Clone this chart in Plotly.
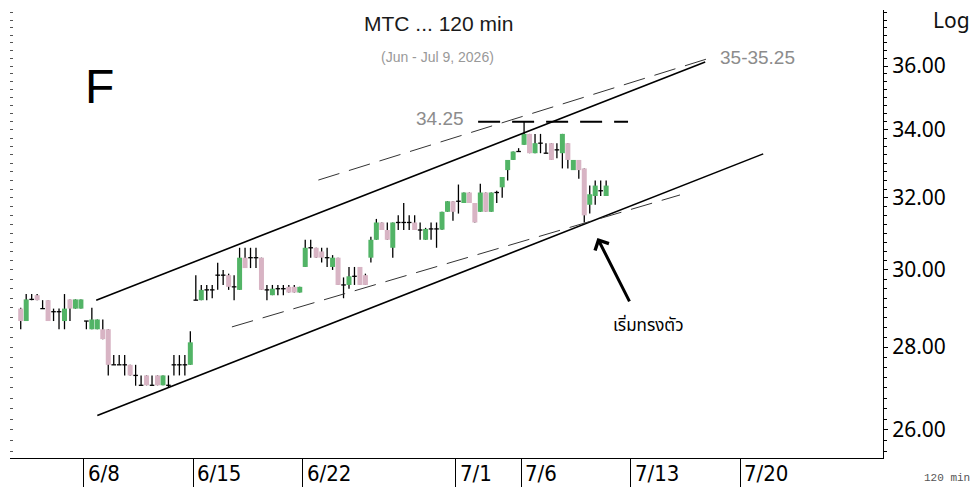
import numpy as np
import plotly.graph_objects as go

# ---------------- data ----------------
# 120-min bars, 4 bars per trading day, Jun 3 .. Jul 9
opens = [28.98, 28.66, 29.22, 29.33, 28.98, 29.20, 28.90, 28.90, 28.66, 29.22, 28.98, 28.98,
         28.66, 28.45, 28.45, 28.45, 28.45, 27.56, 27.56, 27.56, 27.56, 27.30, 27.06, 27.30,
         27.06, 27.30, 27.06, 27.06, 27.56, 27.56, 27.56, 27.56,
         29.20, 29.20, 29.47, 29.47, 29.86, 29.86, 29.86, 29.55, 29.47, 30.33, 30.33, 30.33,
         30.33, 29.47, 29.33, 29.50, 29.50, 29.55, 29.55, 29.40,
         30.08, 30.60, 30.60, 30.50, 30.33, 30.08, 30.33, 29.60, 29.60, 29.83, 30.08, 29.86,
         30.33, 30.82, 31.30, 31.09, 30.60, 31.30, 31.30, 31.30, 31.30, 31.09, 30.82, 31.12,
         31.12, 31.10, 31.60, 31.90, 31.90, 31.85, 32.15, 31.85, 31.60, 32.15, 31.60, 32.15,
         32.30, 32.80, 33.10, 33.35, 33.55, 33.88, 33.30, 33.60, 33.30, 33.60, 33.40, 33.30,
         33.60, 32.80, 33.10, 32.85, 31.80, 32.05, 32.20, 32.05]
highs = [29.00, 29.36, 29.36, 29.36, 29.20, 29.20, 28.98, 28.98, 29.36, 29.22, 29.22, 29.22,
         28.66, 29.00, 28.70, 28.70, 28.45, 27.80, 27.80, 27.80, 27.56, 27.56, 27.30, 27.30,
         27.30, 27.30, 27.30, 27.30, 27.80, 27.80, 27.80, 28.40,
         29.86, 29.60, 29.60, 29.60, 30.19, 30.00, 29.90, 29.86, 30.60, 30.60, 30.60, 30.60,
         30.33, 29.60, 29.60, 29.60, 29.60, 29.60, 29.60, 29.55,
         30.82, 30.82, 30.60, 30.60, 30.60, 30.40, 30.33, 29.80, 30.08, 30.08, 30.08, 29.90,
         30.90, 31.40, 31.30, 31.30, 31.30, 31.50, 31.85, 31.50, 31.50, 31.30, 31.15, 31.30,
         31.30, 31.60, 31.90, 31.90, 32.38, 32.15, 32.15, 31.85, 32.40, 32.15, 32.15, 32.20,
         32.60, 33.10, 33.35, 33.45, 34.25, 33.88, 33.88, 33.88, 33.60, 33.60, 33.60, 33.88,
         33.60, 33.10, 33.10, 32.85, 32.35, 32.50, 32.50, 32.50]
lows = [28.45, 28.66, 29.20, 29.20, 28.98, 28.66, 28.66, 28.45, 28.45, 28.66, 28.98, 28.98,
        28.45, 28.45, 28.45, 28.20, 27.30, 27.56, 27.56, 27.30, 27.30, 27.05, 27.06, 27.06,
        27.06, 27.06, 27.06, 27.00, 27.30, 27.30, 27.30, 27.56,
        29.20, 29.20, 29.20, 29.25, 29.47, 29.60, 29.47, 29.20, 29.47, 30.05, 30.05, 30.05,
        29.47, 29.20, 29.33, 29.33, 29.33, 29.40, 29.40, 29.40,
        30.08, 30.33, 30.33, 30.20, 30.08, 30.00, 29.60, 29.25, 29.50, 29.60, 29.60, 29.60,
        30.20, 30.82, 31.09, 30.82, 30.33, 31.09, 31.09, 31.09, 31.09, 30.82, 30.82, 30.82,
        30.60, 31.10, 31.60, 31.35, 31.55, 31.85, 31.85, 31.30, 31.60, 31.60, 31.60, 31.85,
        32.00, 32.50, 33.10, 33.35, 33.55, 33.30, 33.30, 33.30, 33.30, 33.10, 33.15, 32.85,
        32.85, 32.80, 32.55, 31.30, 31.55, 31.80, 32.05, 32.05]
closes = [28.66, 29.22, 29.22, 29.20, 28.98, 28.66, 28.90, 28.90, 28.98, 28.98, 29.22, 29.22,
          28.66, 28.70, 28.70, 28.20, 27.56, 27.56, 27.56, 27.56, 27.30, 27.30, 27.06, 27.06,
          27.06, 27.06, 27.30, 27.06, 27.56, 27.56, 27.56, 28.12,
          29.20, 29.47, 29.47, 29.47, 29.86, 29.86, 29.55, 29.55, 30.33, 30.05, 30.33, 30.33,
          29.47, 29.47, 29.50, 29.50, 29.50, 29.40, 29.40, 29.55,
          30.60, 30.60, 30.33, 30.33, 30.33, 30.33, 29.60, 29.60, 29.83, 29.83, 29.60, 29.60,
          30.82, 31.30, 31.09, 30.82, 31.30, 31.30, 31.30, 31.30, 31.09, 31.09, 31.12, 31.12,
          31.12, 31.60, 31.90, 31.60, 31.90, 32.15, 31.85, 31.30, 32.15, 31.60, 32.15, 32.15,
          32.60, 33.10, 33.35, 33.35, 33.88, 33.30, 33.60, 33.60, 33.30, 33.10, 33.40, 33.88,
          33.10, 33.10, 32.80, 31.50, 32.10, 32.35, 32.20, 32.35]

# day-boundary positions (in bar units) and their labels
tick_pos = [11.5, 31.5, 51.5, 79.5, 91.5, 111.5, 131.5]
tick_labels = ["6/8", "6/15", "6/22", "7/1", "7/6", "7/13", "7/20"]
y_ticks = [26, 28, 30, 32, 34, 36]
y_tick_labels = ["26.00", "28.00", "30.00", "32.00", "34.00", "36.00"]

# hand-drawn lines (bar index, price)
upper_channel = ([13.8, 125.1], [29.20, 36.13])
lower_channel = ([14.0, 135.7], [26.34, 33.28])
upper_dashed = ([54.4, 126.0], [32.51, 36.26])
lower_dashed = ([38.6, 120.5], [28.51, 32.08])
resistance = ([83.6, 111.0], [34.25, 34.25])
arrow_head = (105.4, 30.87)
arrow_tail = (111.4, 29.13)

GREEN = "#52b466"
PINK = "#d8b4c4"

n = len(opens)
idx = list(range(n))

def seg(xs, y0s, y1s):
    X, Y = [], []
    for x, a, b in zip(xs, y0s, y1s):
        X += [x, x, None]
        Y += [a, b, None]
    return X, Y

up = [i for i in idx if closes[i] > opens[i]]
dn = [i for i in idx if closes[i] < opens[i]]
dj = [i for i in idx if closes[i] == opens[i]]

fig = go.Figure()

wx, wy = seg(idx, lows, highs)
fig.add_trace(go.Scatter(x=wx, y=wy, mode="lines", line=dict(color="black", width=1.3),
                         hoverinfo="skip", showlegend=False))
gx, gy = seg(up, [opens[i] for i in up], [closes[i] for i in up])
fig.add_trace(go.Scatter(x=gx, y=gy, mode="lines", line=dict(color=GREEN, width=5.0),
                         hoverinfo="skip", showlegend=False))
px_, py_ = seg(dn, [opens[i] for i in dn], [closes[i] for i in dn])
fig.add_trace(go.Scatter(x=px_, y=py_, mode="lines", line=dict(color=PINK, width=5.0),
                         hoverinfo="skip", showlegend=False))
dx, dy = [], []
for i in dj:
    dx += [i - 0.42, i + 0.42, None]
    dy += [opens[i], opens[i], None]
fig.add_trace(go.Scatter(x=dx, y=dy, mode="lines", line=dict(color="black", width=1.3),
                         hoverinfo="skip", showlegend=False))

for (lx, ly), style in [
    (upper_channel, dict(color="black", width=1.6)),
    (lower_channel, dict(color="black", width=1.6)),
    (upper_dashed, dict(color="#333333", width=1, dash="22px,10px")),
    (lower_dashed, dict(color="#333333", width=1, dash="22px,10px")),
    (resistance, dict(color="black", width=2, dash="22px,12px")),
]:
    fig.add_trace(go.Scatter(x=lx, y=ly, mode="lines", line=style,
                             hoverinfo="skip", showlegend=False))

# left-side tick marks (overlay axis)
fig.add_trace(go.Scatter(x=[], y=[], yaxis="y2", showlegend=False, hoverinfo="skip"))

YR = [1.404099, 1.578046]
minor_vals = list(np.arange(25.5, 38.01, 0.25))

fig.update_layout(
    width=972, height=487,
    margin=dict(l=10, r=89, t=10, b=29),
    paper_bgcolor="white", plot_bgcolor="white",
    showlegend=False,
    xaxis=dict(range=[-1.96, 157.6], showgrid=False, zeroline=False, automargin=False,
               showline=True, linecolor="black", linewidth=1,
               tickmode="array", tickvals=tick_pos, ticks="outside", ticklen=29,
               tickcolor="black", tickwidth=1, showticklabels=False),
    yaxis=dict(type="log", range=YR, side="right", showgrid=False, zeroline=False,
               automargin=False,
               showline=True, linecolor="black", linewidth=1,
               tickmode="array", tickvals=y_ticks, ticktext=y_tick_labels,
               ticks="outside", ticklen=4, tickcolor="black",
               tickfont=dict(family="Noto Sans, Open Sans, sans-serif", size=21, color="black"),
               minor=dict(tickmode="array", tickvals=minor_vals, ticks="outside",
                          ticklen=3, tickcolor="black")),
    yaxis2=dict(type="log", range=YR, overlaying="y", side="left", showgrid=False,
                zeroline=False, showline=False, showticklabels=False, automargin=False,
                tickmode="array", tickvals=minor_vals, ticks="inside", ticklen=3,
                tickcolor="#555555"),
)

ann = []
for p, lab in zip(tick_pos, tick_labels):
    ann.append(dict(x=p, y=-0.034, xref="x", yref="paper", text=lab, showarrow=False,
                    xanchor="left", yanchor="middle", xshift=2,
                    font=dict(family="Liberation Sans Narrow, Arial Narrow, DejaVu Sans Condensed, sans-serif",
                              size=22, color="black")))
ann += [
    dict(x=0.4903, y=0.9688, xref="paper", yref="paper", text="MTC ... 120 min", showarrow=False,
         xanchor="center", yanchor="middle",
         font=dict(family="Liberation Sans, Arial, sans-serif", size=21, color="#1a1a1a")),
    dict(x=0.4897, y=0.895, xref="paper", yref="paper", text="(Jun - Jul 9, 2026)", showarrow=False,
         xanchor="center", yanchor="middle",
         font=dict(family="Liberation Sans, Arial, sans-serif", size=14, color="#999999")),
    dict(x=0.102, y=0.830, xref="paper", yref="paper", text="F", showarrow=False,
         xanchor="center", yanchor="middle",
         font=dict(family="Liberation Sans, Arial, sans-serif", size=48, color="black")),
    dict(x=1.0550, y=0.9777, xref="paper", yref="paper", text="Log", showarrow=False,
         xanchor="left", yanchor="middle",
         font=dict(family="Noto Sans, Open Sans, sans-serif", size=21, color="#111111")),
    dict(x=1.0447, y=-0.0446, xref="paper", yref="paper", text="120 min", showarrow=False,
         xanchor="left", yanchor="middle",
         font=dict(family="Liberation Mono, Courier New, monospace", size=11, color="#555555")),
    dict(x=81.4, y=np.log10(34.25), xref="x", yref="y", text="34.25", showarrow=False,
         xanchor="right", yanchor="middle", yshift=3,
         font=dict(family="Liberation Sans, Arial, sans-serif", size=19, color="#8c8c8c")),
    dict(x=134.6, y=np.log10(36.26), xref="x", yref="y", text="35-35.25", showarrow=False,
         xanchor="center", yanchor="middle",
         font=dict(family="Liberation Sans, Arial, sans-serif", size=19, color="#8c8c8c")),
    dict(x=114.7, y=np.log10(28.53), xref="x", yref="y", text="เริ่มทรงตัว", showarrow=False,
         xanchor="center", yanchor="middle",
         font=dict(family="Tahoma, Noto Sans Thai, Loma, Garuda, sans-serif", size=17, color="black")),
    dict(x=arrow_head[0], y=np.log10(arrow_head[1]), xref="x", yref="y",
         ax=arrow_tail[0], ay=np.log10(arrow_tail[1]), axref="x", ayref="y",
         text="", showarrow=True, arrowhead=4, arrowsize=1, arrowwidth=3,
         arrowcolor="black", standoff=0),
]
fig.update_layout(annotations=ann)

fig.write_html("out.html", config={"displayModeBar": False},
               post_script="document.body.style.margin='0';")
